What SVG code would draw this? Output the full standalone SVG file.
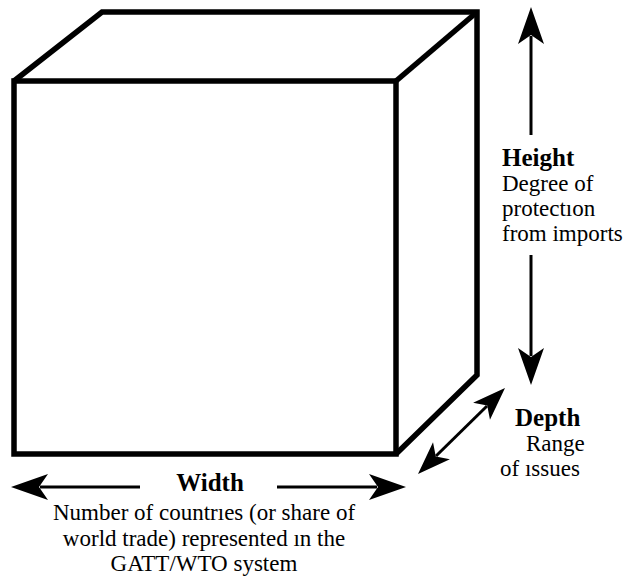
<svg xmlns="http://www.w3.org/2000/svg" xmlns:xlink="http://www.w3.org/1999/xlink" width="629" height="580" viewBox="0 0 629 580">
<style>
.edge{fill:none;stroke:#000;stroke-width:5.5;stroke-linejoin:miter}
.shaft{fill:none;stroke:#000;stroke-width:3}
.head{fill:#000}
.t{font-family:"Liberation Serif","Times New Roman",serif;font-size:23px;fill:#000}
.b{font-family:"Liberation Serif","Times New Roman",serif;font-size:25px;font-weight:bold;fill:#000}
</style>
<defs>
<path id="ah" d="M0,0 L-37,-13 L-28,0 L-37,13 Z"/>
<path id="ahs" d="M0,0 L-33,-12 L-25,0 L-33,12 Z"/>
</defs>
<rect width="629" height="580" fill="#fff"/>
<g id="cube">
<rect class="edge" x="14" y="81" width="382" height="373"/>
<polyline class="edge" points="14,81 102,12 477,12 477,375 396,454"/>
<line class="edge" x1="396" y1="81" x2="477" y2="12"/>
</g>
<g id="connectors">
<line class="shaft" x1="531" y1="36" x2="531" y2="135"/>
<use class="head" xlink:href="#ah" transform="translate(531,7) rotate(-90)"/>
<line class="shaft" x1="531" y1="255" x2="531" y2="356"/>
<use class="head" xlink:href="#ah" transform="translate(531,385) rotate(90)"/>
<line class="shaft" x1="40" y1="487" x2="140" y2="487"/>
<use class="head" xlink:href="#ah" transform="translate(11,487) rotate(180)"/>
<line class="shaft" x1="277" y1="487" x2="377" y2="487"/>
<use class="head" xlink:href="#ah" transform="translate(406,487)"/>
<line class="shaft" x1="436" y1="456" x2="487" y2="406"/>
<use class="head" xlink:href="#ahs" transform="translate(505,388) rotate(-44.7)"/>
<use class="head" xlink:href="#ahs" transform="translate(418,474) rotate(135.3)"/>
</g>
<g id="height">
<text class="b" x="502" y="166">Height</text>
<text class="t" x="502" y="191">Degree of</text>
<text class="t" x="502" y="216">protectıon</text>
<text class="t" x="502" y="241">from imports</text>
</g>
<g id="depth">
<text class="b" x="515" y="426">Depth</text>
<text class="t" x="526" y="451">Range</text>
<text class="t" x="500" y="476">of ıssues</text>
</g>
<g id="width">
<text class="b" x="210" y="491" text-anchor="middle">Width</text>
<text class="t" x="204" y="520" text-anchor="middle">Number of countrıes (or share of</text>
<text class="t" x="204" y="546" text-anchor="middle">world trade) represented ın the</text>
<text class="t" x="204" y="571" text-anchor="middle">GATT/WTO system</text>
</g>
</svg>
